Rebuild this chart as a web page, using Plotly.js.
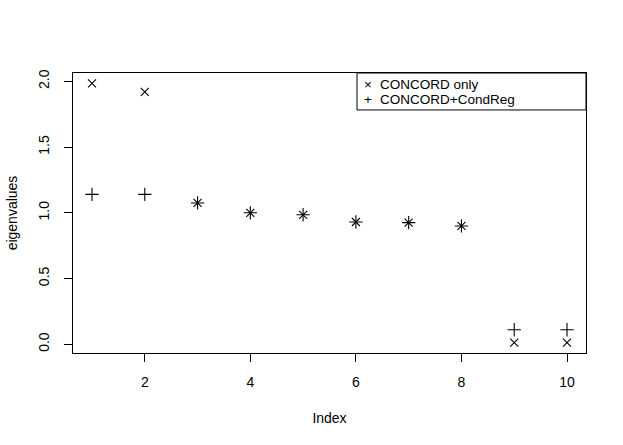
<!DOCTYPE html>
<html>
<head>
<meta charset="utf-8">
<script src="https://cdn.plot.ly/plotly-3.0.1.min.js"></script>
<style>html,body{margin:0;padding:0;background:#fff;}#chart{width:623px;height:445px;}</style>
</head>
<body>
<div id="chart"></div>
<script>
// Data
var index = [1, 2, 3, 4, 5, 6, 7, 8, 9, 10];
var concordOnly = [1.985, 1.92, 1.075, 1.00, 0.985, 0.93, 0.925, 0.90, 0.012, 0.012];
var concordCondReg = [1.14, 1.14, 1.075, 1.00, 0.985, 0.93, 0.925, 0.90, 0.11, 0.11];
var seriesNames = ["CONCORD only", "CONCORD+CondReg"];
var xTicks = [2, 4, 6, 8, 10];
var yTicks = [0, 0.5, 1.0, 1.5, 2.0];
var yTickText = ["0.0", "0.5", "1.0", "1.5", "2.0"];

var FONT = "Liberation Sans, Arial, Helvetica, sans-serif";

function padRange(vals) {
  var mn = Math.min.apply(null, vals), mx = Math.max.apply(null, vals);
  var d = (mx - mn) * 0.04;
  return [mn - d, mx + d];
}
var allY = concordOnly.concat(concordCondReg);

var traces = [
  {x: index, y: concordOnly, mode: "markers", type: "scatter", name: seriesNames[0],
   marker: {symbol: "x-thin-open", size: 8, color: "#000", line: {color: "#000", width: 1.1}},
   showlegend: false, hoverinfo: "x+y"},
  {x: index, y: concordCondReg, mode: "markers", type: "scatter", name: seriesNames[1],
   marker: {symbol: "cross-thin-open", size: 9.5, color: "#000", line: {color: "#000", width: 1.1}},
   showlegend: false, hoverinfo: "x+y"}
];

var PH = 280.5, PW = 513;
var legTop = 1.0, legBottom = 0.868, legLeft = (357 - 73) / PW;
var row1 = 1 - 11.5 / PH, row2 = 1 - 26.7 / PH;
var layout = {
  width: 623, height: 445,
  margin: {l: 73, r: 37, t: 73, b: 91.5, pad: 0},
  paper_bgcolor: "#fff", plot_bgcolor: "#fff",
  font: {family: FONT, size: 14, color: "#000"},
  showlegend: false,
  xaxis: {
    range: padRange(index), tickmode: "array", tickvals: xTicks,
    showgrid: false, zeroline: false, showline: true, mirror: true,
    linecolor: "#000", linewidth: 1, ticks: "outside", ticklen: 8, tickwidth: 1, tickcolor: "#000",
    ticklabelstandoff: 8,
    tickfont: {family: FONT, size: 14, color: "#000"},
    title: {text: "Index", font: {family: FONT, size: 14, color: "#000"}, standoff: 24},
    automargin: false
  },
  yaxis: {
    range: padRange(allY), tickmode: "array", tickvals: yTicks, ticktext: yTickText,
    tickangle: -90,
    showgrid: false, zeroline: false, showline: true, mirror: true,
    linecolor: "#000", linewidth: 1, ticks: "outside", ticklen: 8, tickwidth: 1, tickcolor: "#000",
    ticklabelstandoff: 9,
    tickfont: {family: FONT, size: 14, color: "#000"},
    title: {text: "eigenvalues", font: {family: FONT, size: 14, color: "#000"}, standoff: 15},
    automargin: false
  },
  shapes: [
    {type: "rect", xref: "paper", yref: "paper", x0: legLeft, x1: 1, y0: legBottom, y1: legTop,
     line: {color: "#000", width: 1}, fillcolor: "rgba(0,0,0,0)"}
  ],
  annotations: [
    {xref: "paper", yref: "paper", x: legLeft + 11.5/PW, y: row1, text: "×", showarrow: false,
     xanchor: "center", yanchor: "middle", font: {family: FONT, size: 13.5, color: "#000"}},
    {xref: "paper", yref: "paper", x: legLeft + 11.5/PW, y: row2, text: "+", showarrow: false,
     xanchor: "center", yanchor: "middle", font: {family: FONT, size: 13.5, color: "#000"}},
    {xref: "paper", yref: "paper", x: legLeft + 21.5/PW, y: row1, text: seriesNames[0], showarrow: false,
     xanchor: "left", yanchor: "middle", font: {family: FONT, size: 13.5, color: "#000"}},
    {xref: "paper", yref: "paper", x: legLeft + 21.5/PW, y: row2, text: seriesNames[1], showarrow: false,
     xanchor: "left", yanchor: "middle", font: {family: FONT, size: 13.5, color: "#000"}}
  ]
};

Plotly.newPlot("chart", traces, layout, {displayModeBar: false, staticPlot: true});
</script>
</body>
</html>
